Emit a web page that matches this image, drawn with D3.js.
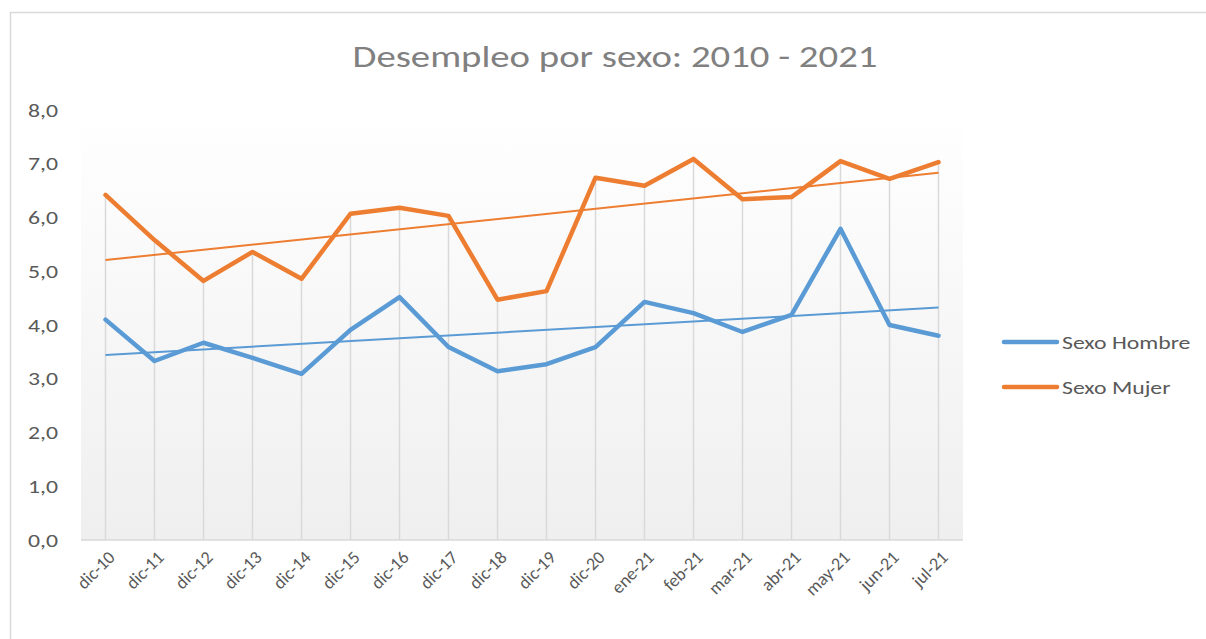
<!DOCTYPE html>
<html>
<head>
<meta charset="utf-8">
<script src="https://cdn.jsdelivr.net/npm/d3@7"></script>
<style>
  body { margin: 0; background: #fff; }
  text { font-family: Carlito, Lato, "Open Sans", sans-serif; }
</style>
</head>
<body>
<div id="chart"></div>
<script>
// categorias y series
var meses = ["dic-10","dic-11","dic-12","dic-13","dic-14","dic-15","dic-16","dic-17","dic-18","dic-19",
             "dic-20","ene-21","feb-21","mar-21","abr-21","may-21","jun-21","jul-21"];
var hombre = [4.1,3.33,3.67,3.39,3.09,3.91,4.52,3.59,3.14,3.27,3.59,4.43,4.22,3.87,4.19,5.79,4.0,3.8];
var mujer  = [6.42,5.58,4.82,5.36,4.86,6.07,6.18,6.03,4.47,4.63,6.74,6.59,7.09,6.34,6.38,7.05,6.72,7.03];
var yTicks = [0,1,2,3,4,5,6,7,8];
var nombres = ["Sexo Hombre","Sexo Mujer"];
var colores = ["#5b9bd5","#ed7d31"];

var W = 1206, H = 639;
var sx = 1.25; // el texto del original sale ensanchado
var svg = d3.select("#chart").append("svg")
  .attr("width", W).attr("height", H);

// marco exterior
svg.append("rect")
  .attr("x", 10.5).attr("y", 12.5).attr("width", 1210).attr("height", 650)
  .attr("fill", "#fff").attr("stroke", "#d9d9d9").attr("stroke-width", 1.5);

var x = d3.scaleBand().domain(meses).range([81, 963]);
var y = d3.scaleLinear().domain([0, 8]).range([540, 110]);
var cx = function(i) { return x(meses[i]) + x.bandwidth() / 2; };

// fondo degradado del area de trazado
var defs = svg.append("defs");
var grad = defs.append("linearGradient").attr("id", "fondo")
  .attr("x1", 0).attr("y1", 0).attr("x2", 0).attr("y2", 1);
grad.append("stop").attr("offset", "0%").attr("stop-color", "#ffffff");
grad.append("stop").attr("offset", "100%").attr("stop-color", "#efefef");

svg.append("rect")
  .attr("x", 81).attr("y", y(8)).attr("width", 963 - 81).attr("height", y(0) - y(8))
  .attr("fill", "url(#fondo)");

// lineas de caida (desde el punto mas alto hasta el eje)
svg.append("g").selectAll("line").data(meses).join("line")
  .attr("x1", function(d, i) { return cx(i); })
  .attr("x2", function(d, i) { return cx(i); })
  .attr("y1", function(d, i) { return y(Math.max(hombre[i], mujer[i])); })
  .attr("y2", y(0))
  .attr("stroke", "#d9d9d9").attr("stroke-width", 1.5);

// eje x
svg.append("line")
  .attr("x1", 81).attr("x2", 963).attr("y1", y(0)).attr("y2", y(0))
  .attr("stroke", "#d9d9d9").attr("stroke-width", 1.5);

svg.append("g").selectAll("text").data(meses).join("text")
  .attr("transform", function(d, i) {
    return "translate(" + (cx(i) + 6) + "," + 554 + ") rotate(-45)";
  })
  .attr("text-anchor", "end")
  .attr("dy", "0.35em")
  .attr("fill", "#595959")
  .style("font-size", "18px")
  .text(function(d) { return d; });

// eje y
var fmt = function(v) { return d3.format(".1f")(v).replace(".", ","); };
svg.append("g").selectAll("text").data(yTicks).join("text")
  .attr("transform", function(d) { return "translate(58," + y(d) + ") scale(" + sx + ",1)"; })
  .attr("dy", "0.35em")
  .attr("text-anchor", "end")
  .attr("fill", "#595959")
  .style("font-size", "19px")
  .text(fmt);

// titulo
svg.append("text")
  .attr("transform", "translate(615,67) scale(" + sx + ",1)")
  .attr("text-anchor", "middle")
  .attr("fill", "#808080")
  .style("font-size", "31px")
  .style("font-weight", "300")
  .text("Desempleo por sexo: 2010 - 2021");

var series = [hombre, mujer];

// lineas de tendencia (minimos cuadrados)
function tendencia(vals) {
  var n = vals.length, s1 = 0, s2 = 0, s3 = 0, s4 = 0;
  vals.forEach(function(v, i) { s1 += i; s2 += v; s3 += i * v; s4 += i * i; });
  var b = (n * s3 - s1 * s2) / (n * s4 - s1 * s1);
  var a = (s2 - b * s1) / n;
  return [a, a + b * (n - 1)];
}

series.forEach(function(vals, k) {
  var t = tendencia(vals);
  svg.append("line")
    .attr("x1", cx(0)).attr("x2", cx(vals.length - 1))
    .attr("y1", y(t[0])).attr("y2", y(t[1]))
    .attr("stroke", colores[k]).attr("stroke-width", 2);
});

var linea = d3.line()
  .x(function(d, i) { return cx(i); })
  .y(function(d) { return y(d); });

series.forEach(function(vals, k) {
  svg.append("path")
    .datum(vals)
    .attr("fill", "none")
    .attr("stroke", colores[k])
    .attr("stroke-width", 4.5)
    .attr("stroke-linejoin", "round")
    .attr("stroke-linecap", "round")
    .attr("d", linea);
});

// leyenda
var ley = svg.append("g").selectAll("g").data(nombres).join("g")
  .attr("transform", function(d, i) { return "translate(1003," + (342 + i * 45) + ")"; });
ley.append("line")
  .attr("x1", 1).attr("x2", 54)
  .attr("stroke", function(d, i) { return colores[i]; })
  .attr("stroke-width", 4.5).attr("stroke-linecap", "round");
ley.append("text")
  .attr("transform", "translate(59,0) scale(" + sx + ",1)")
  .attr("dy", "0.35em")
  .attr("fill", "#595959")
  .style("font-size", "19px")
  .text(function(d) { return d; });
</script>
</body>
</html>
